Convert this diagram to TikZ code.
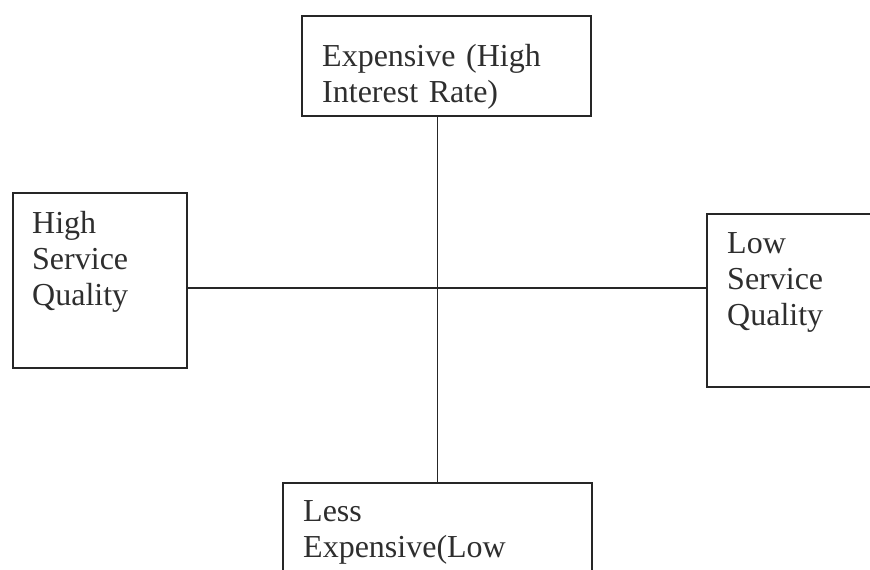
\documentclass[tikz,border=0pt]{standalone}
\usepackage{fontspec}
\setmainfont{Liberation Serif}
\begin{document}
\begin{tikzpicture}[x=1pt,y=1pt,
  box/.style={draw=black!85, line width=1.8pt, rectangle, inner sep=0pt, anchor=north west},
  lbl/.style={anchor=base west, align=left, text width=265pt, inner sep=0pt,
              font=\fontsize{32}{36}\selectfont, text=black!82},
  conn/.style={draw=black!85, line width=1.8pt}]
\useasboundingbox (0,0) rectangle (870,570);
\clip (0,0) rectangle (870,570);
% boxes
\node[box, minimum width=289pt, minimum height=100pt] (top) at (301,555) {};
\node[box, minimum width=174pt, minimum height=175pt] (left) at (12,378) {};
\node[box, minimum width=220pt, minimum height=173pt] (right) at (706,357) {};
\node[box, minimum width=309pt, minimum height=130pt] (bottom) at (282,88) {};
% labels
\node[lbl] (ttop) at (322,503) {Expensive (High\\Interest Rate)};
\node[lbl] (tleft) at (32,336) {High\\Service\\Quality};
\node[lbl] (tright) at (727,316) {Low\\Service\\Quality};
\node[lbl] (tbottom) at (303,48) {Less\\Expensive(Low};
% connectors
\coordinate (h) at (0,282);
\draw[conn] (bottom.north |- top.south) -- (bottom.north);
\draw[conn] (left.east |- h) -- (right.west |- h);
\end{tikzpicture}
\end{document}
